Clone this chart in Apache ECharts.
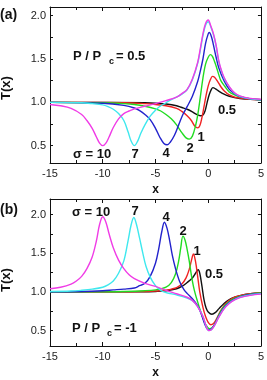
<!DOCTYPE html>
<html>
<head>
<meta charset="utf-8">
<script src="https://cdn.jsdelivr.net/npm/echarts@6/dist/echarts.min.js"></script>
<style>
  html, body { margin: 0; padding: 0; background: #fff; }
  #chart { width: 267px; height: 380px; }
</style>
</head>
<body>
<div id="chart"></div>
<script>
// 曲线标签 σ，顺序与颜色一一对应
var sigmas = ['10', '7', '4', '2', '1', '0.5'];
var colors = ['#f03ce6', '#3ee8ee', '#2222cc', '#22dc22', '#f02222', '#111111'];
// 刻度
var yLabels = [0.5, 1.0, 1.5, 2.0];
var yTicks = [0.5, 0.75, 1.0, 1.25, 1.5, 1.75, 2.0];

// (a) P/Pc = 0.5
var a10 = [[-15,0.975],[-14,0.96],[-13,0.93],[-12,0.86],[-11.5,0.79],[-11,0.70],[-10.6,0.6],[-10.3,0.53],[-10,0.5],[-9.7,0.53],[-9.4,0.6],[-9,0.71],[-8.5,0.81],[-8,0.87],[-7.5,0.9],[-7,0.925],[-6,0.955],[-5,0.985],[-4,1.02],[-3,1.06],[-2.5,1.1],[-2,1.15],[-1.5,1.27],[-1,1.46],[-0.75,1.62],[-0.5,1.79],[-0.25,1.91],[0,1.95],[0.25,1.88],[0.5,1.79],[0.75,1.66],[1,1.48],[1.25,1.37],[1.5,1.29],[2,1.18],[2.5,1.11],[3,1.075],[4,1.045],[5,1.035]];
var a7 = [[-15,1.0],[-12,0.995],[-11,0.985],[-10,0.97],[-9.5,0.95],[-9,0.92],[-8.5,0.87],[-8,0.79],[-7.6,0.66],[-7.3,0.55],[-7,0.5],[-6.7,0.55],[-6.4,0.64],[-6,0.74],[-5.5,0.84],[-5,0.91],[-4.5,0.96],[-4,0.995],[-3.5,1.03],[-3,1.06],[-2.5,1.095],[-2,1.145],[-1.5,1.26],[-1,1.45],[-0.75,1.6],[-0.5,1.77],[-0.25,1.89],[0,1.93],[0.25,1.87],[0.5,1.78],[0.75,1.65],[1,1.47],[1.25,1.36],[1.5,1.28],[2,1.175],[2.5,1.105],[3,1.07],[4,1.04],[5,1.03]];
var a4 = [[-15,1.0],[-10,0.99],[-8,0.965],[-7,0.935],[-6.5,0.905],[-6,0.86],[-5.5,0.8],[-5,0.7],[-4.6,0.6],[-4.2,0.525],[-3.9,0.51],[-3.6,0.54],[-3.2,0.62],[-2.8,0.74],[-2.4,0.86],[-2,0.95],[-1.5,1.07],[-1,1.24],[-0.75,1.36],[-0.5,1.5],[-0.25,1.68],[0,1.79],[0.1,1.805],[0.3,1.76],[0.5,1.66],[0.75,1.52],[1,1.4],[1.5,1.25],[2,1.15],[2.5,1.1],[3,1.065],[4,1.04],[5,1.03]];
var a2 = [[-15,1.0],[-10,0.995],[-8,0.985],[-7,0.975],[-6,0.955],[-5,0.925],[-4.5,0.9],[-4,0.86],[-3.5,0.81],[-3,0.74],[-2.5,0.65],[-2.1,0.59],[-1.8,0.575],[-1.5,0.61],[-1.2,0.73],[-1,0.85],[-0.75,1.06],[-0.5,1.28],[-0.25,1.44],[0,1.52],[0.2,1.55],[0.4,1.53],[0.6,1.47],[0.8,1.4],[1,1.32],[1.2,1.25],[1.6,1.18],[2,1.12],[2.5,1.085],[3,1.065],[4,1.04],[5,1.03]];
var a1 = [[-15,1.0],[-8,0.995],[-6,0.985],[-5,0.975],[-4,0.96],[-3,0.93],[-2.5,0.895],[-2,0.845],[-1.6,0.79],[-1.3,0.73],[-1,0.705],[-0.8,0.73],[-0.6,0.82],[-0.4,0.95],[-0.2,1.08],[0,1.19],[0.2,1.26],[0.4,1.3],[0.6,1.29],[0.9,1.24],[1.2,1.18],[1.5,1.135],[2,1.085],[2.5,1.06],[3,1.05],[4,1.035],[5,1.03]];
var a05 = [[-15,1.0],[-6,0.995],[-5,0.99],[-4,0.98],[-3,0.96],[-2.5,0.94],[-2,0.92],[-1.5,0.89],[-1.1,0.86],[-0.75,0.845],[-0.5,0.855],[-0.3,0.9],[-0.1,1.0],[0.1,1.09],[0.3,1.15],[0.45,1.17],[0.7,1.155],[1,1.13],[1.5,1.095],[2,1.07],[2.5,1.055],[3,1.045],[4,1.035],[5,1.03]];

// (b) P/Pc = -1
var b10 = [[-15,1.04],[-14,1.06],[-13,1.1],[-12.5,1.14],[-12,1.2],[-11.5,1.3],[-11,1.45],[-10.6,1.66],[-10.3,1.87],[-10,1.97],[-9.7,1.9],[-9.4,1.75],[-9,1.57],[-8.5,1.41],[-8,1.3],[-7.5,1.22],[-7,1.17],[-6,1.11],[-5,1.07],[-4,1.02],[-3,0.975],[-2,0.93],[-1.5,0.89],[-1,0.81],[-0.5,0.68],[-0.2,0.56],[0.05,0.5],[0.3,0.51],[0.6,0.565],[1,0.67],[1.5,0.78],[2,0.85],[2.5,0.895],[3,0.925],[4,0.955],[5,0.97]];
var b7 = [[-15,1.005],[-13,1.01],[-12,1.02],[-11,1.035],[-10,1.06],[-9.5,1.09],[-9,1.14],[-8.5,1.24],[-8,1.4],[-7.6,1.66],[-7.3,1.87],[-7.05,1.96],[-6.8,1.87],[-6.5,1.69],[-6.2,1.5],[-5.9,1.33],[-5.5,1.19],[-5,1.08],[-4.5,1.02],[-4,0.99],[-3,0.96],[-2,0.92],[-1.5,0.885],[-1,0.81],[-0.5,0.685],[-0.2,0.56],[0.05,0.5],[0.3,0.51],[0.6,0.565],[1,0.675],[1.5,0.785],[2,0.855],[2.5,0.9],[3,0.93],[4,0.96],[5,0.975]];
var b4 = [[-15,1.0],[-12,1.005],[-10,1.015],[-9,1.025],[-8,1.035],[-7,1.05],[-6.5,1.08],[-6,1.11],[-5.5,1.2],[-5,1.37],[-4.7,1.55],[-4.4,1.78],[-4.15,1.9],[-3.9,1.82],[-3.65,1.66],[-3.4,1.47],[-3.1,1.3],[-2.7,1.13],[-2.3,1.03],[-2,0.98],[-1.5,0.91],[-1,0.82],[-0.7,0.73],[-0.4,0.61],[-0.15,0.53],[0.05,0.51],[0.3,0.52],[0.6,0.575],[1,0.685],[1.5,0.795],[2,0.865],[2.5,0.905],[3,0.935],[4,0.965],[5,0.98]];
var b2 = [[-15,1.0],[-10,1.0],[-8,1.005],[-6,1.015],[-5,1.025],[-4.5,1.04],[-4,1.06],[-3.5,1.12],[-3.1,1.23],[-2.8,1.4],[-2.6,1.57],[-2.4,1.72],[-2.2,1.67],[-2,1.55],[-1.8,1.4],[-1.6,1.22],[-1.4,1.07],[-1.2,0.96],[-1,0.87],[-0.75,0.76],[-0.5,0.66],[-0.25,0.58],[0.1,0.525],[0.4,0.54],[0.7,0.6],[1,0.7],[1.5,0.81],[2,0.875],[2.5,0.915],[3,0.94],[4,0.97],[5,0.985]];
var b1 = [[-15,1.0],[-8,1.0],[-6,1.005],[-5,1.01],[-4,1.02],[-3.5,1.035],[-3,1.055],[-2.5,1.1],[-2.1,1.18],[-1.8,1.29],[-1.6,1.4],[-1.4,1.49],[-1.2,1.39],[-1,1.2],[-0.8,1.0],[-0.5,0.8],[-0.25,0.68],[0,0.605],[0.25,0.575],[0.5,0.59],[0.8,0.655],[1.2,0.76],[1.6,0.84],[2,0.89],[2.5,0.93],[3,0.95],[4,0.975],[5,0.99]];
var b05 = [[-15,1.0],[-6,1.0],[-5,1.005],[-4,1.015],[-3,1.04],[-2.5,1.07],[-2,1.12],[-1.5,1.18],[-1.2,1.24],[-0.95,1.285],[-0.8,1.24],[-0.6,1.08],[-0.4,0.9],[-0.2,0.79],[0,0.74],[0.35,0.71],[0.7,0.735],[1,0.78],[1.5,0.85],[2,0.9],[2.5,0.93],[3,0.95],[4,0.975],[5,0.99]];

var panelA = [a10, a7, a4, a2, a1, a05];
var panelB = [b10, b7, b4, b2, b1, b05];

var font = 'Arial, "Liberation Sans", sans-serif';
var chart = echarts.init(document.getElementById('chart'));

// x 轴：底部带标签，顶部只画刻度
function xAxis(grid, top) {
  return {
    type: 'value', gridIndex: grid, position: top ? 'top' : 'bottom',
    min: -15, max: 5, interval: 5,
    name: top ? '' : 'x', nameLocation: 'middle', nameGap: 21,
    nameTextStyle: { fontFamily: font, fontWeight: 'bold', fontSize: 12, color: '#111' },
    axisLine: { show: true, onZero: false, lineStyle: { color: '#111', width: 1 } },
    axisTick: { show: true, inside: true, length: 4, lineStyle: { color: '#111' } },
    minorTick: { show: true, splitNumber: 2, length: 3, lineStyle: { color: '#111' } },
    axisLabel: { show: !top, margin: 5, fontFamily: font, fontSize: 11, color: '#222' },
    splitLine: { show: false }
  };
}
// y 轴：左侧带标签，右侧只画刻度
function yAxis(grid, max, right) {
  return {
    type: 'value', gridIndex: grid, position: right ? 'right' : 'left',
    min: 0.3, max: max,
    axisLine: { show: true, onZero: false, lineStyle: { color: '#111', width: 1 } },
    axisTick: { show: true, inside: true, length: 3, customValues: yTicks, lineStyle: { color: '#111' } },
    axisLabel: {
      show: !right, margin: 4, fontFamily: font, fontSize: 11, color: '#222',
      customValues: yLabels,
      formatter: function (v) { return v.toFixed(1); }
    },
    splitLine: { show: false }
  };
}

var series = [];
// 先画黑线，最后画品红
for (var i = sigmas.length - 1; i >= 0; i--) {
  series.push({
    type: 'line', name: 'a' + sigmas[i], xAxisIndex: 0, yAxisIndex: 0,
    data: panelA[i], showSymbol: false, smooth: 0.35, z: 10 - i,
    lineStyle: { color: colors[i], width: 1.4 }
  });
  series.push({
    type: 'line', name: 'b' + sigmas[i], xAxisIndex: 2, yAxisIndex: 2,
    data: panelB[i], showSymbol: false, smooth: 0.35, z: 10 - i,
    lineStyle: { color: colors[i], width: 1.4 }
  });
}

function txt(x, y, s, size, align, rot) {
  return {
    type: 'text', x: x, y: y, rotation: rot || 0,
    style: {
      text: s, fill: '#111', font: 'bold ' + size + 'px ' + font,
      textAlign: align || 'left', textVerticalAlign: 'middle'
    }
  };
}

var option = {
  animation: false,
  backgroundColor: '#fff',
  grid: [
    { left: 50, right: 5, top: 7, height: 156 },
    { left: 50, right: 5, top: 199, height: 157 }
  ],
  xAxis: [xAxis(0, false), xAxis(0, true), xAxis(1, false), xAxis(1, true)],
  yAxis: [yAxis(0, 2.1, false), yAxis(0, 2.1, true), yAxis(1, 2.2, false), yAxis(1, 2.2, true)],
  series: series,
  graphic: [
    txt(0, 15, '(a)', 14),
    txt(0, 210, '(b)', 14),
    txt(6, 88, 'T(x)', 13, 'center', Math.PI / 2),
    txt(6, 280, 'T(x)', 13, 'center', Math.PI / 2),
    // (a) 标注
    txt(73, 56, 'P / P', 13),
    txt(109, 62, 'c', 9),
    txt(116, 56, '= 0.5', 13),
    txt(73, 154, 'σ = 10', 13),
    txt(135, 154, '7', 13, 'center'),
    txt(166, 153, '4', 13, 'center'),
    txt(190, 148, '2', 13, 'center'),
    txt(201, 137, '1', 13, 'center'),
    txt(218, 110, '0.5', 13),
    // (b) 标注
    txt(72, 212, 'σ = 10', 13),
    txt(135, 211, '7', 13, 'center'),
    txt(166, 217, '4', 13, 'center'),
    txt(183, 231, '2', 13, 'center'),
    txt(197, 251, '1', 13, 'center'),
    txt(205, 274, '0.5', 13),
    txt(72, 328, 'P / P', 13),
    txt(107, 334, 'c', 9),
    txt(114, 328, '= -1', 13)
  ]
};
chart.setOption(option);
</script>
</body>
</html>
